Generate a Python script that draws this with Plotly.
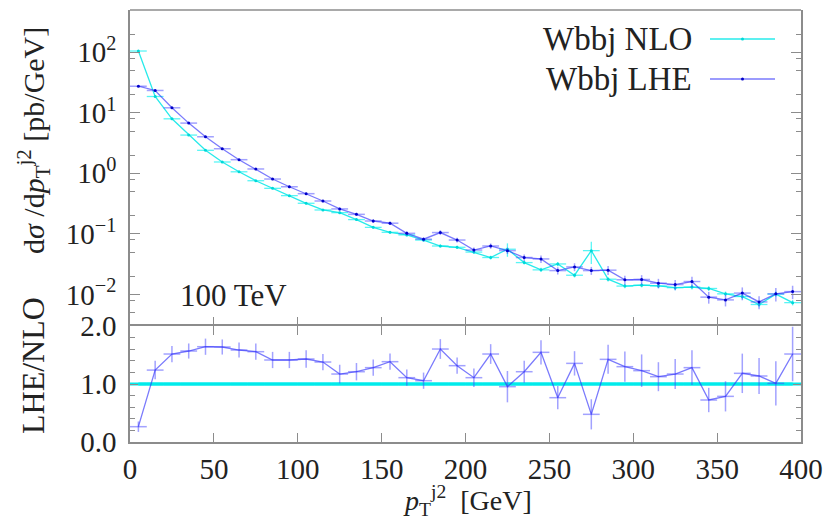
import plotly.graph_objects as go

# ---------------- data ----------------
pt_centers = [5, 15, 25, 35, 45, 55, 65, 75, 85, 95,
              105, 115, 125, 135, 145, 155, 165, 175, 185, 195,
              205, 215, 225, 235, 245, 255, 265, 275, 285, 295,
              305, 315, 325, 335, 345, 355, 365, 375, 385, 395]
bin_half_width = [5] * 40

nlo_xsec = [105, 18.6, 7.96, 4.29, 2.40, 1.54, 1.06, 0.755, 0.565, 0.428,
            0.32, 0.248, 0.224, 0.172, 0.128, 0.106, 0.096, 0.079, 0.063, 0.060,
            0.050, 0.0406, 0.0557, 0.0335, 0.0254, 0.0318, 0.0207, 0.0528, 0.0178, 0.0137,
            0.0142, 0.0138, 0.0129, 0.0132, 0.0125, 0.0102, 0.0092, 0.0068, 0.0101, 0.0073]
nlo_rel_err = [0.01, 0.02, 0.02, 0.02, 0.02, 0.02, 0.03, 0.03, 0.03, 0.03,
               0.04, 0.04, 0.04, 0.05, 0.05, 0.05, 0.05, 0.06, 0.06, 0.06,
               0.07, 0.07, 0.25, 0.07, 0.08, 0.08, 0.08, 0.40, 0.08, 0.08,
               0.08, 0.08, 0.09, 0.09, 0.09, 0.09, 0.10, 0.10, 0.10, 0.10]

lhe_xsec = [27.5, 23.4, 12.1, 6.76, 4.02, 2.55, 1.68, 1.18, 0.805, 0.60,
            0.461, 0.349, 0.258, 0.21, 0.163, 0.15, 0.102, 0.0815, 0.105, 0.079,
            0.054, 0.063, 0.0528, 0.0406, 0.0385, 0.0247, 0.0284, 0.0247, 0.0251, 0.0174,
            0.0176, 0.0153, 0.0145, 0.0163, 0.0090, 0.0081, 0.0105, 0.0075, 0.0102, 0.0111]
lhe_rel_err = [0.02, 0.02, 0.02, 0.02, 0.03, 0.03, 0.03, 0.04, 0.04, 0.05,
               0.05, 0.05, 0.06, 0.06, 0.07, 0.07, 0.08, 0.08, 0.09, 0.09,
               0.10, 0.10, 0.12, 0.12, 0.14, 0.14, 0.15, 0.15, 0.17, 0.17,
               0.18, 0.18, 0.19, 0.20, 0.22, 0.22, 0.24, 0.24, 0.25, 0.25]

ratio_lhe_nlo = [0.264, 1.24, 1.517, 1.569, 1.643, 1.638, 1.586, 1.557, 1.414, 1.414,
                 1.431, 1.379, 1.172, 1.212, 1.282, 1.385, 1.109, 1.057, 1.603, 1.316,
                 1.109, 1.517, 0.954, 1.212, 1.546, 0.764, 1.356, 0.477, 1.425, 1.299,
                 1.230, 1.126, 1.172, 1.282, 0.724, 0.787, 1.184, 1.138, 1.011, 1.517]
ratio_err = [0.09, 0.16, 0.14, 0.13, 0.14, 0.13, 0.13, 0.14, 0.14, 0.14,
             0.15, 0.14, 0.16, 0.15, 0.14, 0.14, 0.14, 0.14, 0.17, 0.14,
             0.16, 0.17, 0.27, 0.19, 0.21, 0.20, 0.21, 0.26, 0.25, 0.26,
             0.28, 0.25, 0.26, 0.30, 0.21, 0.26, 0.34, 0.31, 0.38, 0.47]
ratio_nlo_nlo = [1.0] * 40

upper_tickvals = [0.01, 0.1, 1, 10, 100]
upper_ticktext = ["10<sup>\u22122</sup>", "10<sup>\u22121</sup>", "10<sup>0</sup>",
                  "10<sup>1</sup>", "10<sup>2</sup>"]
upper_minor = [m * d for d in [0.001, 0.01, 0.1, 1, 10, 100] for m in (2, 5, 8)]
x_tickvals = [0, 50, 100, 150, 200, 250, 300, 350, 400]

# ---------------- styling ----------------
FONT = "Liberation Serif"
CYAN = "rgba(0,230,230,0.85)"
CYAN_ERR = "rgba(0,240,240,0.65)"
BLUE = "rgba(50,50,250,0.65)"
BLUE_ERR = "rgba(70,70,255,0.5)"
AX = "#8c8c8c"
TXT = "#222222"

fig = go.Figure()

nlo_err = [v * r for v, r in zip(nlo_xsec, nlo_rel_err)]
lhe_err = [v * r for v, r in zip(lhe_xsec, lhe_rel_err)]

fig.add_trace(go.Scatter(
    x=pt_centers, y=nlo_xsec, mode="lines+markers", name="Wbbj NLO",
    line=dict(color=CYAN, width=1.3),
    marker=dict(color="#00d8d8", size=3),
    error_x=dict(type="data", array=bin_half_width, color=CYAN_ERR, thickness=1.3, width=0),
    error_y=dict(type="data", array=nlo_err, color=CYAN_ERR, thickness=1.3, width=0),
    xaxis="x", yaxis="y", showlegend=False))

fig.add_trace(go.Scatter(
    x=pt_centers, y=lhe_xsec, mode="lines+markers", name="Wbbj LHE",
    line=dict(color=BLUE, width=1.3),
    marker=dict(color="#0000c8", size=3),
    error_x=dict(type="data", array=bin_half_width, color=BLUE_ERR, thickness=1.5, width=0),
    error_y=dict(type="data", array=lhe_err, color=BLUE_ERR, thickness=1.5, width=0),
    xaxis="x", yaxis="y", showlegend=False))

fig.add_trace(go.Scatter(
    x=pt_centers, y=ratio_nlo_nlo, mode="lines",
    line=dict(color="rgba(0,235,235,1)", width=3),
    error_x=dict(type="data", array=bin_half_width, color="rgba(0,235,235,1)", thickness=3, width=0),
    xaxis="x2", yaxis="y2", showlegend=False))

fig.add_trace(go.Scatter(
    x=pt_centers, y=ratio_lhe_nlo, mode="lines",
    line=dict(color=BLUE, width=1.3),
    error_x=dict(type="data", array=bin_half_width, color=BLUE_ERR, thickness=1.5, width=0),
    error_y=dict(type="data", array=ratio_err, color=BLUE_ERR, thickness=1.5, width=0),
    xaxis="x2", yaxis="y2", showlegend=False))

split = 0.2685
common_ax = dict(linecolor=AX, linewidth=1.5, ticks="inside",
                 tickcolor=AX, tickwidth=1, showgrid=False, zeroline=False,
                 automargin=False,
                 tickfont=dict(family=FONT, size=29, color=TXT))

fig.update_layout(
    width=830, height=520,
    margin=dict(l=130, r=29, t=10, b=78, autoexpand=False),
    paper_bgcolor="white", plot_bgcolor="white",
    font=dict(family=FONT, color=TXT),
    xaxis=dict(domain=[0, 1], anchor="y", range=[0, 400], tickvals=x_tickvals,
               showline=False, showticklabels=False, ticklen=9, **common_ax),
    yaxis=dict(domain=[split, 1], anchor="x", type="log", range=[-2.523, 2.699],
               tickmode="array", tickvals=upper_tickvals, ticktext=upper_ticktext,
               showline=True, ticklen=10, mirror="ticks", ticklabelstandoff=6,
               minor=dict(tickmode="array", tickvals=upper_minor, ticks="inside",
                          ticklen=5, tickcolor=AX, tickwidth=1),
               **common_ax),
    xaxis2=dict(domain=[0, 1], anchor="y2", range=[0, 400], tickvals=x_tickvals,
                showline=True, ticklen=9, mirror="ticks", **common_ax),
    yaxis2=dict(domain=[0, split], anchor="x2", range=[0, 2.0], tickvals=[0, 1, 2],
                tickformat=".1f", showline=True, ticklen=8, mirror="ticks",
                ticklabelstandoff=6,
                minor=dict(dtick=0.2, ticks="inside", ticklen=5, tickcolor=AX, tickwidth=1),
                **common_ax),
)

# top frame edge of the upper panel
fig.add_shape(type="line", xref="paper", yref="paper", x0=0, x1=1, y0=1, y1=1,
              line=dict(color=AX, width=1.5))

# axis titles
fig.add_annotation(text="d<i>\u03c3</i> /d<i>p</i><sub>T</sub><sup>j2</sup> [pb/GeV]",
                   xref="paper", yref="paper", x=(34 - 130) / 671, y=(442 - 141) / 432,
                   xanchor="center", yanchor="middle", textangle=-90,
                   showarrow=False, font=dict(family=FONT, size=30, color=TXT))
fig.add_annotation(text="LHE/NLO", xref="paper", yref="paper",
                   x=(33 - 130) / 671, y=(442 - 366) / 432,
                   xanchor="center", yanchor="middle",
                   textangle=-90, showarrow=False, font=dict(family=FONT, size=32, color=TXT))
fig.add_annotation(text="<i>p</i><sub>T</sub><sup>j2</sup>\u2002[GeV]", xref="paper",
                   yref="paper", x=(467 - 130) / 671, y=(442 - 500) / 432,
                   xanchor="center", yanchor="middle",
                   showarrow=False, font=dict(family=FONT, size=28, color=TXT))

# energy label
fig.add_annotation(text="100 TeV", xref="paper", yref="paper", x=(178 - 130) / 671,
                   xanchor="left", y=(442 - 295) / 432, yanchor="middle", showarrow=False,
                   font=dict(family=FONT, size=31, color=TXT))

# custom legend (text on the left, sample on the right)
for label, col, mcol, py in [("Wbbj NLO", CYAN, "#00d8d8", 39), ("Wbbj LHE", BLUE, "#0000c8", 79)]:
    yp = (442 - py) / 432
    fig.add_annotation(text=label, xref="paper", yref="paper", x=(694 - 130) / 671,
                       xanchor="right", y=yp, yanchor="middle", showarrow=False,
                       font=dict(family=FONT, size=33, color=TXT))
    fig.add_shape(type="line", xref="paper", yref="paper",
                  x0=(710 - 130) / 671, x1=(775 - 130) / 671, y0=yp, y1=yp,
                  line=dict(color=col, width=1.5))
    fig.add_shape(type="circle", xref="paper", yref="paper",
                  x0=(741 - 130) / 671, x1=(744 - 130) / 671,
                  y0=yp - 1.5 / 432, y1=yp + 1.5 / 432,
                  fillcolor=mcol, line=dict(color=mcol, width=0))

fig.write_html("out.html", config={"displayModeBar": False},
               post_script="document.body.style.margin='0';")
